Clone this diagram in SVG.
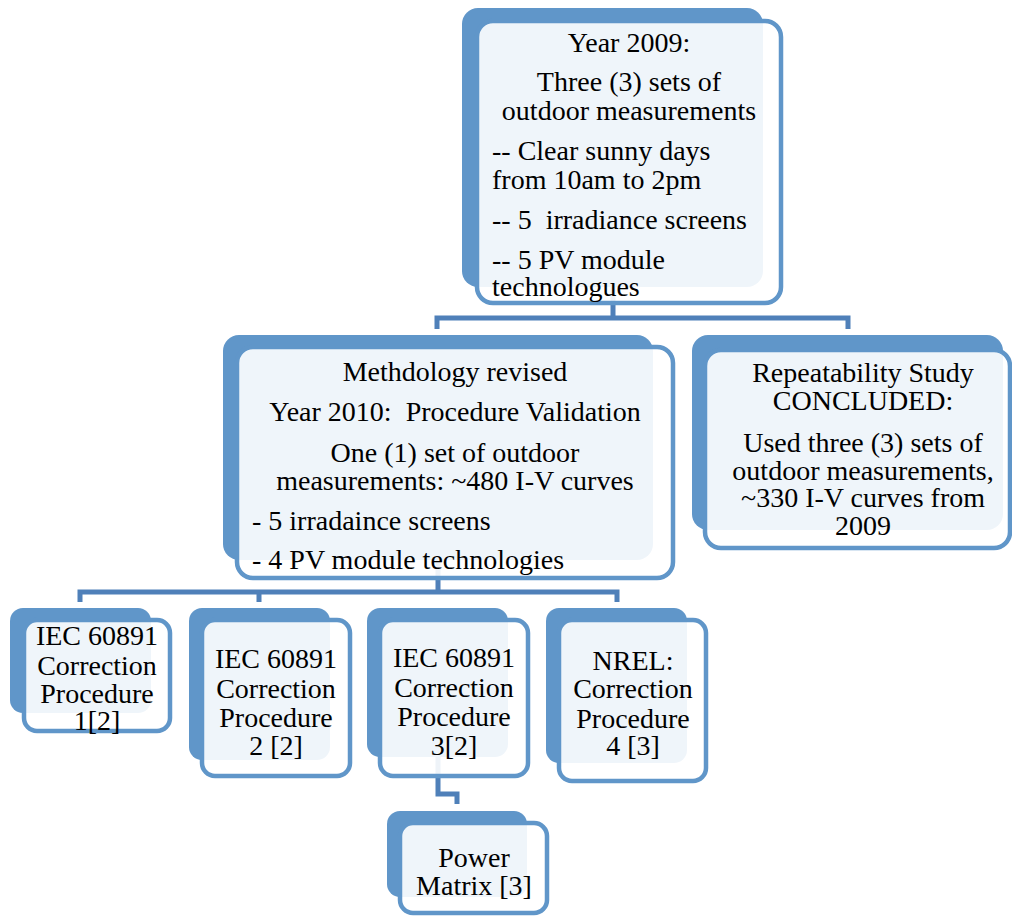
<svg xmlns="http://www.w3.org/2000/svg" width="1012" height="916" viewBox="0 0 1012 916">
<style>
.back{fill:#6096C9;}
.front{fill:#FFFFFF;fill-opacity:0.9;stroke:#6096C9;stroke-width:4.5;}
.conn{fill:none;stroke:#4F80B9;stroke-width:5;}
text{font-family:"Liberation Serif","Times New Roman",serif;font-size:28px;fill:#000;}
.c{text-anchor:middle;}
</style>
<rect x="0" y="0" width="1012" height="916" fill="#FFFFFF"/>
<g id="connectors">
<path class="conn" d="M613,287 V318 M437,329 V318 H848 V329"/>
<path class="conn" d="M438,560 V592 M80,602 V592 H617 V602 M259,592 V602"/>
<path class="conn" d="M438,757 V794 H457 V804"/>
</g>
<g id="node-2009">
<rect class="back" x="462" y="8" width="301" height="279" rx="16"/>
<rect class="front" x="477" y="21" width="304" height="282" rx="16"/>
<text class="c" x="629" y="52">Year 2009:</text>
<text class="c" x="629" y="91">Three (3) sets of</text>
<text class="c" x="629" y="120">outdoor measurements</text>
<text x="492" y="160">-- Clear sunny days</text>
<text x="492" y="189">from 10am to 2pm</text>
<text x="492" y="229" xml:space="preserve">-- 5  irradiance screens</text>
<text x="492" y="269">-- 5 PV module</text>
<text x="492" y="296">technologues</text>
</g>
<g id="node-2010">
<rect class="back" x="223" y="335" width="430" height="225" rx="16"/>
<rect class="front" x="237" y="347" width="436" height="231" rx="16"/>
<text class="c" x="455" y="381">Methdology revised</text>
<text class="c" x="455" y="421" xml:space="preserve">Year 2010:  Procedure Validation</text>
<text class="c" x="455" y="462">One (1) set of outdoor</text>
<text class="c" x="455" y="490">measurements: ~480 I-V curves</text>
<text x="252" y="530">- 5 irradaince screens</text>
<text x="252" y="569">- 4 PV module technologies</text>
</g>
<g id="node-repeatability">
<rect class="back" x="692" y="335" width="311" height="195" rx="16"/>
<rect class="front" x="705" y="350" width="305" height="198" rx="16"/>
<text class="c" x="863" y="382">Repeatability Study</text>
<text class="c" x="863" y="410">CONCLUDED:</text>
<text class="c" x="863" y="452">Used three (3) sets of</text>
<text class="c" x="863" y="480">outdoor measurements,</text>
<text class="c" x="863" y="507">~330 I-V curves from</text>
<text class="c" x="863" y="535">2009</text>
</g>
<g id="node-proc1">
<rect class="back" x="10" y="608" width="141" height="105" rx="13"/>
<rect class="front" x="24" y="620" width="146" height="111" rx="13"/>
<text class="c" x="97" y="645">IEC 60891</text>
<text class="c" x="97" y="675">Correction</text>
<text class="c" x="97" y="703">Procedure</text>
<text class="c" x="97" y="730">1[2]</text>
</g>
<g id="node-proc2">
<rect class="back" x="189" y="608" width="141" height="152" rx="13"/>
<rect class="front" x="202" y="620" width="148" height="156" rx="13"/>
<text class="c" x="276" y="668">IEC 60891</text>
<text class="c" x="276" y="698">Correction</text>
<text class="c" x="276" y="727">Procedure</text>
<text class="c" x="276" y="755">2 [2]</text>
</g>
<g id="node-proc3">
<rect class="back" x="367" y="608" width="141" height="149" rx="13"/>
<rect class="front" x="380" y="620" width="148" height="156" rx="13"/>
<text class="c" x="454" y="667">IEC 60891</text>
<text class="c" x="454" y="697">Correction</text>
<text class="c" x="454" y="726">Procedure</text>
<text class="c" x="454" y="755">3[2]</text>
</g>
<g id="node-proc4">
<rect class="back" x="546" y="608" width="141" height="155" rx="13"/>
<rect class="front" x="559" y="620" width="147" height="161" rx="13"/>
<text class="c" x="633" y="670">NREL:</text>
<text class="c" x="633" y="698">Correction</text>
<text class="c" x="633" y="728">Procedure</text>
<text class="c" x="633" y="755">4 [3]</text>
</g>
<g id="node-power">
<rect class="back" x="387" y="811" width="140" height="86" rx="13"/>
<rect class="front" x="400" y="823" width="147" height="90" rx="13"/>
<text class="c" x="474" y="867">Power</text>
<text class="c" x="474" y="895">Matrix [3]</text>
</g>
</svg>
